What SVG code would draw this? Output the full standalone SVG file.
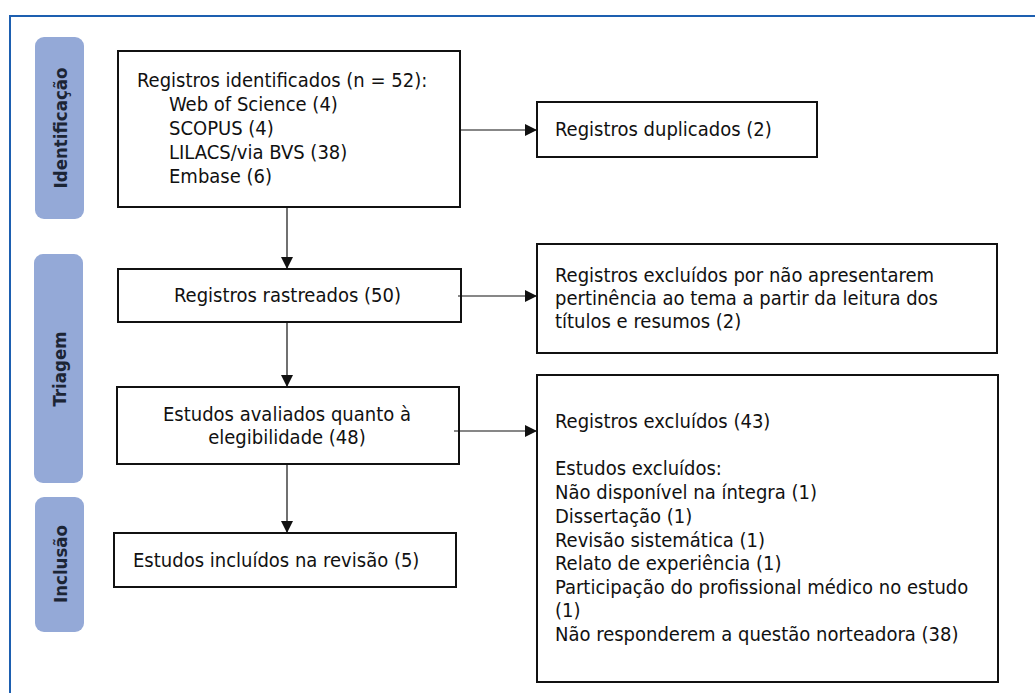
<svg xmlns="http://www.w3.org/2000/svg" width="1035" height="693" viewBox="0 0 1035 693">
<style>
.tab{fill:#94a9d7;}
.tabt{font-family:"DejaVu Sans Condensed","DejaVu Sans",sans-serif;font-weight:bold;font-size:18.5px;fill:#1c2535;}
.box{fill:#fff;stroke:#111;stroke-width:2;}
.t{font-family:"DejaVu Sans Condensed","DejaVu Sans",sans-serif;font-size:20px;fill:#111;}
.c{stroke:#111;stroke-width:1.2;fill:none;}
</style>
<defs>
<marker id="ah" markerWidth="12" markerHeight="12" refX="11" refY="6" orient="auto" markerUnits="userSpaceOnUse">
<path d="M0,0 L12,6 L0,12 Z" fill="#111"/>
</marker>
</defs>
<rect width="1035" height="693" fill="#fff"/>
<path d="M10,700 L10,16 L1040,16" fill="none" stroke="#1d5fb0" stroke-width="2"/>

<g id="tab-identificacao">
<rect class="tab" x="35" y="37" width="49" height="182" rx="9"/>
<text class="tabt" transform="translate(67,128) rotate(-90)" text-anchor="middle">Identificação</text>
</g>
<g id="tab-triagem">
<rect class="tab" x="34" y="254" width="49" height="229" rx="9"/>
<text class="tabt" transform="translate(66,369) rotate(-90)" text-anchor="middle">Triagem</text>
</g>
<g id="tab-inclusao">
<rect class="tab" x="35" y="497" width="49" height="135" rx="9"/>
<text class="tabt" transform="translate(67,564) rotate(-90)" text-anchor="middle">Inclusão</text>
</g>

<g id="n-identificados">
<rect class="box" x="118" y="51" width="342" height="156"/>
<text class="t" x="137" y="87">Registros identificados (n = 52):</text>
<text class="t" x="169" y="111">Web of Science (4)</text>
<text class="t" x="169" y="135">SCOPUS (4)</text>
<text class="t" x="169" y="159">LILACS/via BVS (38)</text>
<text class="t" x="169" y="183">Embase (6)</text>
</g>
<g id="n-duplicados">
<rect class="box" x="537" y="102" width="280" height="55"/>
<text class="t" x="555" y="136">Registros duplicados (2)</text>
</g>
<g id="n-rastreados">
<rect class="box" x="118" y="269" width="343" height="53"/>
<text class="t" x="174" y="302">Registros rastreados (50)</text>
</g>
<g id="n-excluidos1">
<rect class="box" x="537" y="244" width="460" height="109"/>
<text class="t" x="555" y="282">Registros excluídos por não apresentarem</text>
<text class="t" x="555" y="305">pertinência ao tema a partir da leitura dos</text>
<text class="t" x="555" y="328">títulos e resumos (2)</text>
</g>
<g id="n-avaliados">
<rect class="box" x="117" y="387" width="342" height="77"/>
<text class="t" x="287" y="421" text-anchor="middle">Estudos avaliados quanto à</text>
<text class="t" x="287" y="444" text-anchor="middle">elegibilidade (48)</text>
</g>
<g id="n-excluidos2">
<rect class="box" x="537" y="375" width="461" height="307"/>
<text class="t" x="555" y="428">Registros excluídos (43)</text>
<text class="t" x="555" y="475">Estudos excluídos:</text>
<text class="t" x="555" y="499">Não disponível na íntegra (1)</text>
<text class="t" x="555" y="523">Dissertação (1)</text>
<text class="t" x="555" y="547">Revisão sistemática (1)</text>
<text class="t" x="555" y="570">Relato de experiência (1)</text>
<text class="t" x="555" y="594">Participação do profissional médico no estudo</text>
<text class="t" x="555" y="617">(1)</text>
<text class="t" x="555" y="641">Não responderem a questão norteadora (38)</text>
</g>
<g id="n-incluidos">
<rect class="box" x="114" y="533" width="342" height="54"/>
<text class="t" x="133" y="567">Estudos incluídos na revisão (5)</text>
</g>

<g id="connectors">
<line class="c" x1="287" y1="207" x2="287" y2="268" marker-end="url(#ah)"/>
<line class="c" x1="287" y1="322" x2="287" y2="386" marker-end="url(#ah)"/>
<line class="c" x1="287" y1="464" x2="287" y2="532" marker-end="url(#ah)"/>
<line class="c" x1="460" y1="130" x2="536" y2="130" marker-end="url(#ah)"/>
<line class="c" x1="458" y1="296" x2="536" y2="296" marker-end="url(#ah)"/>
<line class="c" x1="454" y1="431" x2="536" y2="431" marker-end="url(#ah)"/>
</g>
</svg>
